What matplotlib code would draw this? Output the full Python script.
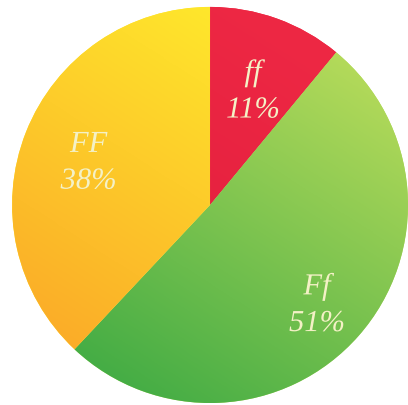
import numpy as np
import matplotlib.pyplot as plt
import matplotlib.patheffects as pe
from matplotlib.colors import LinearSegmentedColormap

plt.rcParams['font.family'] = ['Liberation Serif', 'DejaVu Serif']

# genotype shares
labels = ['ff', 'Ff', 'FF']
shares = [11, 51, 38]
light = ['#ee2844', '#b4da5a', '#ffec2c']
dark = ['#e01c3c', '#45ad45', '#fbac28']
label_r = [0.64, 0.72, 0.66]

fig = plt.figure(figsize=(4.08, 4.06), dpi=100)
ax = fig.add_axes([0, 0, 1, 1])

wedges, texts = ax.pie(shares, colors=light, startangle=90, counterclock=False,
                       labels=[f'{l}\n{s}%' for l, s in zip(labels, shares)],
                       labeldistance=0.68, wedgeprops=dict(linewidth=0),
                       textprops=dict(style='italic', fontsize=22, color='#f4f1c6'))

# shading: light at top-right, darker toward bottom-left
yy, xx = np.mgrid[1.05:-1.05:400j, -1.05:1.05:400j]
d = np.array([-0.55, -0.85])
d = d / np.linalg.norm(d)
t = np.clip((xx * d[0] + yy * d[1] + 1) / 2, 0, 1)
for w, c1, c2 in zip(wedges, light, dark):
    cmap = LinearSegmentedColormap.from_list('g', [c1, c2])
    im = ax.imshow(t, cmap=cmap, vmin=0, vmax=1, extent=(-1.05, 1.05, -1.05, 1.05),
                   zorder=w.get_zorder() + 0.1)
    im.set_clip_path(w)

for w, tx, r in zip(wedges, texts, label_r):
    ang = np.deg2rad((w.theta1 + w.theta2) / 2)
    tx.set_position((r * np.cos(ang), r * np.sin(ang) - 0.03))
    tx.set_ha('center')
    tx.set_va('center')
    tx.set_zorder(5)
    tx.set_linespacing(1.35)
    tx.set_path_effects([pe.SimpleLineShadow(offset=(1, -1), shadow_color='#7a7a40', alpha=0.5),
                         pe.Normal()])

ax.set_xlim(-1.061, 1.0)
ax.set_ylim(-1.010, 1.040)
ax.set_aspect('auto')
ax.axis('off')
fig.savefig('out.png', dpi=100)
